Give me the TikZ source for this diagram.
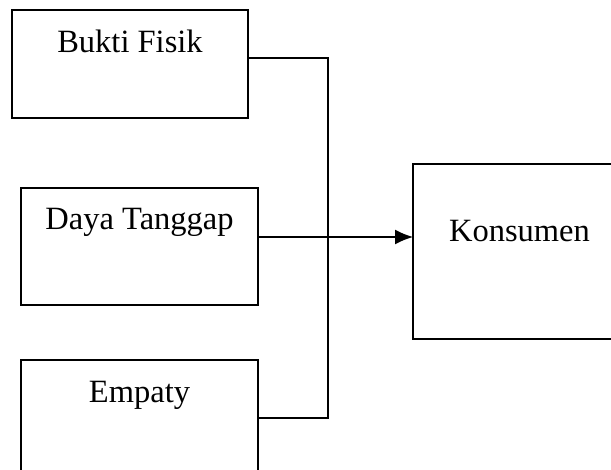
\documentclass[tikz,border=0pt]{standalone}
\usepackage{fontspec}
\setmainfont{Liberation Serif}
\usetikzlibrary{arrows.meta}
\begin{document}
\begin{tikzpicture}[x=1pt,y=-1pt,
  box/.style={draw, rectangle, inner sep=0pt, outer sep=0pt, anchor=north west,
              font=\fontsize{32.5}{38}\selectfont},
  link/.style={draw, line width=1.4pt},
]
\useasboundingbox (0,0) rectangle (611,470);
\clip (0,0) rectangle (611,470);
\node[box, line width=1.6pt, minimum width=236pt, text height=43pt, text depth=65pt] (b1) at (12,10) {Bukti Fisik};
\node[box, line width=2.5pt, minimum width=237pt, text height=42pt, text depth=75pt] (b2) at (21,188) {Daya Tanggap};
\node[box, line width=2.5pt, minimum width=237pt, text height=43pt, text depth=125pt] (b3) at (21,360) {Empaty};
\node[box, line width=2.3pt, minimum width=213pt, text height=78pt, text depth=97pt] (k) at (413,164) {Konsumen};
\coordinate (j1) at (328,58);
\coordinate (j2) at (328,237);
\coordinate (j3) at (328,418);
\draw[link] (b1.east |- j1) -- (j1) -- (j3) -- (b3.east |- j3);
\draw[link, -{Latex[length=18pt,width=15pt]}] (b2.east |- j2) -- (k.west |- j2);
\end{tikzpicture}
\end{document}
